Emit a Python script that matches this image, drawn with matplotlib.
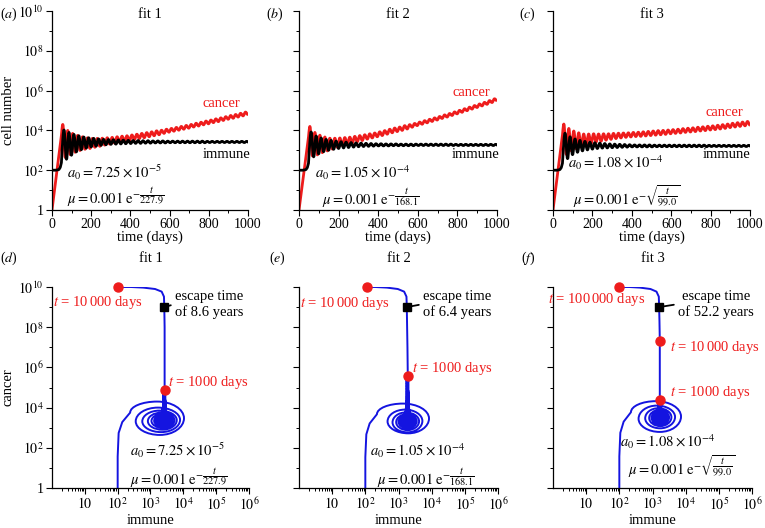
import numpy as np
import matplotlib
matplotlib.use('Agg')
import matplotlib.pyplot as plt
from matplotlib.path import Path
from matplotlib.patches import PathPatch
from matplotlib.ticker import FixedLocator, NullFormatter, LogLocator

plt.rcParams['font.family'] = ['Liberation Serif', 'DejaVu Serif']
plt.rcParams['mathtext.fontset'] = 'stix'
plt.rcParams['font.size'] = 10

# ---------------- data (log10 values) ----------------
fit_names = ['fit 1', 'fit 2', 'fit 3']
top_letters = ['a', 'b', 'c']
bottom_letters = ['d', 'e', 'f']
a0_labels = [r'$a_0 = 7.25\times10^{-5}$', r'$a_0 = 1.05\times10^{-4}$', r'$a_0 = 1.08\times10^{-4}$']
mu_labels = [r'$\mu = 0.001\ \mathrm{e}^{-\dfrac{t}{227.9}}$',
             r'$\mu = 0.001\ \mathrm{e}^{-\dfrac{t}{168.1}}$',
             r'$\mu = 0.001\ \mathrm{e}^{-\sqrt{\dfrac{t}{99.0}}}$']
escape_labels = ['escape time\nof 8.6 years', 'escape time\nof 6.4 years', 'escape time\nof 52.2 years']

y_tick_exp = [0, 2, 4, 6, 8, 10]
y_tick_labels = ['1', r'$10^2$', r'$10^4$', r'$10^6$', r'$10^8$', r'$10^{10}$']
y_minor_exp = [1, 3, 5, 7, 9]
time_ticks = [0, 200, 400, 600, 800, 1000]
time_minor = [100, 300, 500, 700, 900]
imm_tick_exp = [1, 2, 3, 4, 5, 6]
imm_tick_labels = [r'$10$', r'$10^2$', r'$10^3$', r'$10^4$', r'$10^5$', r'$10^6$']

cycle_start = 55.0      # day of first cancer peak
cycle_period = 25.2     # days per oscillation
early_t = [0, 20, 35, 42, 48]

fit1_early_cancer = [0.0, 1.56, 2.74, 3.28, 3.75]
fit1_early_immune = [2.0, 2.0, 2.03, 2.14, 2.38]
fit1_cancer_peaks = [4.30, 4.00, 3.85, 3.75, 3.68, 3.63, 3.60, 3.60, 3.61, 3.63, 3.65, 3.68, 3.71,
                     3.73, 3.77, 3.81, 3.85, 3.89, 3.93, 3.98, 4.01, 4.06, 4.10, 4.15, 4.20, 4.25,
                     4.30, 4.36, 4.41, 4.47, 4.52, 4.58, 4.63, 4.69, 4.75, 4.80, 4.86, 4.92]
fit1_cancer_troughs = [2.64, 2.78, 2.90, 2.99, 3.05, 3.09, 3.15, 3.20, 3.26, 3.31, 3.36, 3.41, 3.45,
                       3.49, 3.54, 3.59, 3.63, 3.68, 3.73, 3.78, 3.85, 3.91, 3.96, 4.01, 4.06, 4.11,
                       4.17, 4.22, 4.28, 4.33, 4.39, 4.44, 4.50, 4.56, 4.61, 4.67, 4.73, 4.79]
fit1_immune_peaks = [4.02, 3.90, 3.80, 3.73, 3.67, 3.63, 3.60, 3.57, 3.55, 3.54, 3.53, 3.52, 3.51,
                     3.50, 3.49, 3.49, 3.48, 3.48, 3.47, 3.47, 3.47, 3.46, 3.46, 3.46, 3.46, 3.46,
                     3.46, 3.46, 3.46, 3.45, 3.45, 3.45, 3.45, 3.45, 3.45, 3.45, 3.45, 3.45]
fit1_immune_troughs = [2.55, 2.75, 2.92, 3.03, 3.11, 3.17, 3.21, 3.25, 3.28, 3.30, 3.31, 3.32, 3.33,
                       3.34, 3.35, 3.35, 3.36, 3.36, 3.37, 3.37, 3.37, 3.38, 3.38, 3.38, 3.38, 3.38,
                       3.38, 3.38, 3.38, 3.39, 3.39, 3.39, 3.39, 3.39, 3.39, 3.39, 3.39, 3.39]
fit1_tail_immune = [3.43, 3.43, 3.43, 3.43, 3.42, 3.41, 3.34, 3.14, 2.78, 2.40, 2.00]
fit1_tail_cancer = [4.87, 6.00, 7.00, 8.00, 9.00, 9.52, 9.77, 9.90, 9.97, 10.0, 10.0]
fit1_dots_immune = [3.43, 2.00]
fit1_dots_cancer = [4.87, 10.0]
fit1_dot_labels = [r'$t$ = 1000 days', r'$t$ = 10$\,$000 days']
fit1_escape = [3.42, 9.0]

fit2_early_cancer = [0.0, 1.53, 2.67, 3.21, 3.67]
fit2_early_immune = [2.0, 2.0, 2.03, 2.13, 2.35]
fit2_cancer_peaks = [4.20, 3.90, 3.76, 3.67, 3.61, 3.61, 3.62, 3.64, 3.66, 3.70, 3.74, 3.78, 3.83,
                     3.87, 3.93, 3.99, 4.06, 4.12, 4.17, 4.24, 4.29, 4.35, 4.42, 4.49, 4.56, 4.63,
                     4.70, 4.78, 4.85, 4.93, 5.01, 5.09, 5.17, 5.25, 5.33, 5.41, 5.50, 5.59]
fit2_cancer_troughs = [2.72, 2.77, 2.88, 2.97, 3.06, 3.15, 3.24, 3.31, 3.37, 3.43, 3.49, 3.56, 3.62,
                       3.68, 3.74, 3.81, 3.88, 3.94, 4.00, 4.07, 4.16, 4.24, 4.31, 4.38, 4.45, 4.52,
                       4.60, 4.67, 4.75, 4.83, 4.91, 4.99, 5.07, 5.15, 5.23, 5.31, 5.40, 5.49]
fit2_immune_peaks = [3.92, 3.72, 3.62, 3.55, 3.50, 3.46, 3.43, 3.41, 3.39, 3.37, 3.36, 3.35, 3.34,
                     3.33, 3.33, 3.32, 3.32, 3.32, 3.31, 3.31, 3.31, 3.31, 3.31, 3.31, 3.31, 3.31,
                     3.31, 3.31, 3.31, 3.30, 3.30, 3.30, 3.30, 3.30, 3.30, 3.30, 3.30, 3.30]
fit2_immune_troughs = [2.67, 2.82, 2.93, 3.00, 3.05, 3.09, 3.12, 3.14, 3.16, 3.18, 3.19, 3.20, 3.21,
                       3.22, 3.22, 3.22, 3.23, 3.23, 3.23, 3.23, 3.23, 3.24, 3.24, 3.24, 3.24, 3.24,
                       3.24, 3.24, 3.24, 3.24, 3.24, 3.24, 3.24, 3.24, 3.24, 3.24, 3.24, 3.24]
fit2_tail_immune = [3.28, 3.27, 3.26, 3.25, 3.24, 3.17, 2.98, 2.65, 2.30, 2.04]
fit2_tail_cancer = [5.57, 7.00, 8.00, 9.00, 9.52, 9.77, 9.90, 9.97, 10.0, 10.0]
fit2_dots_immune = [3.28, 2.04]
fit2_dots_cancer = [5.57, 10.0]
fit2_dot_labels = [r'$t$ = 1000 days', r'$t$ = 10$\,$000 days']
fit2_escape = [3.25, 9.0]

fit3_early_cancer = [0.0, 1.57, 2.75, 3.30, 3.77]
fit3_early_immune = [2.0, 2.0, 2.03, 2.13, 2.35]
fit3_cancer_peaks = [4.32, 4.10, 3.97, 3.88, 3.82, 3.82, 3.83, 3.82, 3.83, 3.83, 3.85, 3.86, 3.87,
                     3.88, 3.90, 3.91, 3.93, 3.95, 3.97, 3.99, 4.00, 4.02, 4.04, 4.06, 4.09, 4.11,
                     4.13, 4.16, 4.18, 4.21, 4.23, 4.26, 4.29, 4.32, 4.36, 4.39, 4.42, 4.45]
fit3_cancer_troughs = [2.79, 2.97, 3.08, 3.16, 3.25, 3.34, 3.42, 3.46, 3.51, 3.55, 3.59, 3.62, 3.65,
                       3.67, 3.69, 3.70, 3.72, 3.74, 3.76, 3.78, 3.80, 3.83, 3.85, 3.87, 3.90, 3.92,
                       3.94, 3.97, 3.99, 4.02, 4.04, 4.07, 4.10, 4.14, 4.17, 4.20, 4.23, 4.26]
fit3_immune_peaks = [3.86, 3.68, 3.57, 3.50, 3.45, 3.41, 3.38, 3.36, 3.34, 3.32, 3.31, 3.30, 3.29,
                     3.28, 3.27, 3.27, 3.27, 3.27, 3.26, 3.26, 3.26, 3.26, 3.26, 3.26, 3.26, 3.26,
                     3.26, 3.26, 3.26, 3.25, 3.25, 3.25, 3.25, 3.25, 3.25, 3.25, 3.25, 3.25]
fit3_immune_troughs = [2.58, 2.78, 2.90, 2.97, 3.02, 3.06, 3.09, 3.11, 3.12, 3.13, 3.14, 3.15, 3.16,
                       3.17, 3.17, 3.17, 3.17, 3.17, 3.18, 3.18, 3.18, 3.18, 3.18, 3.18, 3.18, 3.18,
                       3.18, 3.18, 3.18, 3.19, 3.19, 3.19, 3.19, 3.19, 3.19, 3.19, 3.19, 3.19]
fit3_tail_immune = [3.22, 3.22, 3.22, 3.21, 3.20, 3.19, 3.12, 2.94, 2.62, 2.30, 1.99]
fit3_tail_cancer = [4.38, 6.00, 7.33, 8.30, 9.00, 9.52, 9.77, 9.90, 9.97, 10.0, 10.0]
fit3_dots_immune = [3.22, 3.22, 1.99]
fit3_dots_cancer = [4.38, 7.33, 10.0]
fit3_dot_labels = [r'$t$ = 1000 days', r'$t$ = 10$\,$000 days', r'$t$ = 100$\,$000 days']
fit3_escape = [3.20, 9.0]

fits = [
    dict(ec=fit1_early_cancer, ei=fit1_early_immune, cp=fit1_cancer_peaks, ct=fit1_cancer_troughs,
         ip=fit1_immune_peaks, it=fit1_immune_troughs, ti=fit1_tail_immune, tc=fit1_tail_cancer,
         di=fit1_dots_immune, dc=fit1_dots_cancer, dl=fit1_dot_labels, esc=fit1_escape),
    dict(ec=fit2_early_cancer, ei=fit2_early_immune, cp=fit2_cancer_peaks, ct=fit2_cancer_troughs,
         ip=fit2_immune_peaks, it=fit2_immune_troughs, ti=fit2_tail_immune, tc=fit2_tail_cancer,
         di=fit2_dots_immune, dc=fit2_dots_cancer, dl=fit2_dot_labels, esc=fit2_escape),
    dict(ec=fit3_early_cancer, ei=fit3_early_immune, cp=fit3_cancer_peaks, ct=fit3_cancer_troughs,
         ip=fit3_immune_peaks, it=fit3_immune_troughs, ti=fit3_tail_immune, tc=fit3_tail_cancer,
         di=fit3_dots_immune, dc=fit3_dots_cancer, dl=fit3_dot_labels, esc=fit3_escape),
]

RED = '#ee1c1c'
BLUE = '#1414e0'
K = 0.55

# ---------------- helpers ----------------
def time_path(early_vals, times, vals):
    """Path: polyline through early points, then smooth arcs between extrema."""
    verts = [(t, 10 ** v) for t, v in zip(early_t, early_vals)]
    codes = [Path.MOVETO] + [Path.LINETO] * (len(verts) - 1)
    prev = (early_t[-1], early_vals[-1])
    first = True
    for t, v in zip(times, vals):
        dt = t - prev[0]
        if first:
            verts += [(prev[0] + 0.5 * dt, 10 ** (prev[1] + 0.7 * (v - prev[1]))),
                      (t - 0.3 * dt, 10 ** v), (t, 10 ** v)]
            first = False
        else:
            verts += [(prev[0] + 0.4 * dt, 10 ** prev[1]), (t - 0.4 * dt, 10 ** v), (t, 10 ** v)]
        codes += [Path.CURVE4] * 3
        prev = (t, v)
    return Path(verts, codes)


def phase_path(f):
    cp, ct, ip, it = f['cp'], f['ct'], f['ip'], f['it']
    n = len(cp)
    pts = []
    for k in range(n):
        prev_it = it[k - 1] if k > 0 else f['ei'][-1]
        pts.append((0.5 * (prev_it + ip[k]), cp[k]))
        pts.append((ip[k], 0.5 * (cp[k] + ct[k])))
        pts.append((0.5 * (ip[k] + it[k]), ct[k]))
        if k < n - 1:
            pts.append((it[k], 0.5 * (ct[k] + cp[k + 1])))
    lv = [(x, y) for x, y in zip(f['ei'], f['ec'])]
    codes = [Path.MOVETO] + [Path.LINETO] * (len(lv) - 1)
    E, P0 = lv[-1], pts[0]
    lv += [(E[0], E[1] + K * (P0[1] - E[1])), (P0[0] - K * (P0[0] - E[0]), P0[1]), P0]
    codes += [Path.CURVE4] * 3
    for j in range(len(pts) - 1):
        A, B = pts[j], pts[j + 1]
        if j % 2 == 0:
            c1 = (A[0] + K * (B[0] - A[0]), A[1])
            c2 = (B[0], B[1] + K * (A[1] - B[1]))
        else:
            c1 = (A[0], A[1] + K * (B[1] - A[1]))
            c2 = (B[0] + K * (A[0] - B[0]), B[1])
        lv += [c1, c2, B]
        codes += [Path.CURVE4] * 3
    for x, y in zip(f['ti'], f['tc']):
        lv.append((x, y))
        codes.append(Path.LINETO)
    verts = [(10 ** x, 10 ** y) for x, y in lv]
    return Path(verts, codes)


def style_axes(ax):
    for s in ['top', 'right']:
        ax.spines[s].set_visible(False)
    for s in ['left', 'bottom']:
        ax.spines[s].set_linewidth(0.9)
    ax.tick_params(which='major', length=4, width=0.8, direction='out', labelsize=10, pad=2)
    ax.tick_params(which='minor', length=2, width=0.7, direction='out')


# ---------------- figure ----------------
fig = plt.figure(figsize=(7.65, 5.28), dpi=100)
W, H = 765.0, 528.0

top_x = [(52, 248), (299, 497), (553, 750)]
bot_x = [(52, 249), (299, 498), (553, 752)]
top_y = (11, 210)
bot_y = (287, 488)

# text placements (axes fractions)
top_a0 = [(0.077, 0.16), (0.081, 0.16), (0.076, 0.21)]
top_mu = [(0.077, 0.03), (0.116, 0.025), (0.10, 0.025)]
top_cancer = [(0.77, 0.533), (0.773, 0.588), (0.772, 0.492)]
top_immune = [(0.77, 0.281), (0.773, 0.281), (0.761, 0.281)]
bot_a0 = [(0.396, 0.159), (0.357, 0.159), (0.337, 0.204)]
bot_mu = [(0.396, 0.018), (0.392, 0.018), (0.377, 0.065)]
bot_escape = [(0.624, 0.915), (0.623, 0.915), (0.628, 0.915)]
bot_dot_text = [[(0.589, 0.527), (0.005, 0.925)],
                [(0.568, 0.597), (0.005, 0.92)],
                [(0.588, 0.473), (0.588, 0.70), (-0.025, 0.94)]]
letter_x_top = [9, 275, 527]
letter_x_bot = [9, 277, 528]

for i, f in enumerate(fits):
    # ---- top row ----
    x0, x1 = top_x[i]
    ax = fig.add_axes([x0 / W, 1 - top_y[1] / H, (x1 - x0) / W, (top_y[1] - top_y[0]) / H])
    n = len(f['cp'])
    c_times, c_vals, i_times, i_vals = [], [], [], []
    for k in range(n):
        c_times += [cycle_start + k * cycle_period, cycle_start + (k + 0.5) * cycle_period]
        c_vals += [f['cp'][k], f['ct'][k]]
        i_times += [cycle_start + (k + 0.25) * cycle_period, cycle_start + (k + 0.75) * cycle_period]
        i_vals += [f['ip'][k], f['it'][k]]
    ax.add_patch(PathPatch(time_path(f['ec'], c_times, c_vals), fill=False, edgecolor=RED,
                           lw=2.0, zorder=2, joinstyle='round'))
    ax.add_patch(PathPatch(time_path(f['ei'], i_times, i_vals), fill=False, edgecolor='black',
                           lw=2.0, zorder=3, joinstyle='round'))
    ax.set_yscale('log')
    ax.set_xlim(0, 1000)
    ax.set_ylim(1, 1e10)
    ax.set_xticks(time_ticks)
    ax.xaxis.set_minor_locator(FixedLocator(time_minor))
    ax.set_yticks([10.0 ** e for e in y_tick_exp])
    ax.yaxis.set_minor_locator(FixedLocator([10.0 ** e for e in y_minor_exp]))
    ax.yaxis.set_minor_formatter(NullFormatter())
    if i == 0:
        ax.set_yticklabels(y_tick_labels)
        ax.set_ylabel('cell number', fontsize=10.5)
        ax.yaxis.set_label_coords(-0.19, 0.5)
    else:
        ax.set_yticklabels([''] * len(y_tick_exp))
    ax.set_xlabel('time (days)', fontsize=10.5)
    ax.xaxis.set_label_coords(0.5, -0.105)
    style_axes(ax)
    ax.text(*top_a0[i], a0_labels[i], transform=ax.transAxes, fontsize=10.5, va='baseline')
    ax.text(*top_mu[i], mu_labels[i], transform=ax.transAxes, fontsize=10.5, va='baseline')
    ax.text(*top_cancer[i], 'cancer', transform=ax.transAxes, color=RED, fontsize=10.5, va='center')
    ax.text(*top_immune[i], 'immune', transform=ax.transAxes, color='black', fontsize=10.5, va='center')
    fig.text(letter_x_top[i] / W, 1 - 14 / H, '($' + top_letters[i] + '$)', ha='center', va='center', fontsize=10)
    fig.text((x0 + x1) / 2 / W, 1 - 14 / H, fit_names[i], ha='center', va='center', fontsize=10.5)

    # ---- bottom row ----
    x0, x1 = bot_x[i]
    ax = fig.add_axes([x0 / W, 1 - bot_y[1] / H, (x1 - x0) / W, (bot_y[1] - bot_y[0]) / H])
    ax.set_xscale('log')
    ax.set_yscale('log')
    ax.set_xlim(1, 1e6)
    ax.set_ylim(1, 1e10)
    ax.add_patch(PathPatch(phase_path(f), fill=False, edgecolor=BLUE, lw=1.4, zorder=2,
                           joinstyle='round', capstyle='round'))
    ax.plot([10 ** v for v in f['di']], [10 ** v for v in f['dc']], 'o', color=RED, ms=6.5,
            zorder=4, clip_on=False)
    ax.plot([10 ** f['esc'][0]], [10 ** f['esc'][1]], 's', color='black', ms=6, zorder=5, clip_on=False)
    for (tx, ty), lab in zip(bot_dot_text[i], f['dl']):
        ax.text(tx, ty, lab, transform=ax.transAxes, color=RED, fontsize=10.5, va='center', ha='left',
                clip_on=False)
    ax.annotate(escape_labels[i], xy=(10 ** f['esc'][0], 10 ** f['esc'][1]), xycoords='data',
                xytext=bot_escape[i], textcoords='axes fraction', ha='left', va='center',
                multialignment='center', fontsize=10.5,
                arrowprops=dict(arrowstyle='-', lw=1.3, color='black', relpos=(0, 0.5),
                                shrinkA=1, shrinkB=3))
    ax.set_xticks([10.0 ** e for e in imm_tick_exp])
    ax.set_xticklabels(imm_tick_labels)
    ax.xaxis.set_minor_locator(LogLocator(base=10, subs=np.arange(2, 10), numticks=20))
    ax.xaxis.set_minor_formatter(NullFormatter())
    ax.set_yticks([10.0 ** e for e in y_tick_exp])
    ax.yaxis.set_minor_locator(FixedLocator([10.0 ** e for e in y_minor_exp]))
    ax.yaxis.set_minor_formatter(NullFormatter())
    if i == 0:
        ax.set_yticklabels(y_tick_labels)
        ax.set_ylabel('cancer', fontsize=10.5)
        ax.yaxis.set_label_coords(-0.19, 0.5)
    else:
        ax.set_yticklabels([''] * len(y_tick_exp))
    ax.set_xlabel('immune', fontsize=10.5)
    ax.xaxis.set_label_coords(0.5, -0.128)
    style_axes(ax)
    ax.text(*bot_a0[i], a0_labels[i], transform=ax.transAxes, fontsize=10.5, va='baseline')
    ax.text(*bot_mu[i], mu_labels[i], transform=ax.transAxes, fontsize=10.5, va='baseline')
    fig.text(letter_x_bot[i] / W, 1 - 258 / H, '($' + bottom_letters[i] + '$)', ha='center', va='center', fontsize=10)
    fig.text((x0 + x1) / 2 / W, 1 - 258 / H, fit_names[i], ha='center', va='center', fontsize=10.5)

fig.savefig('out.png', dpi=100)
